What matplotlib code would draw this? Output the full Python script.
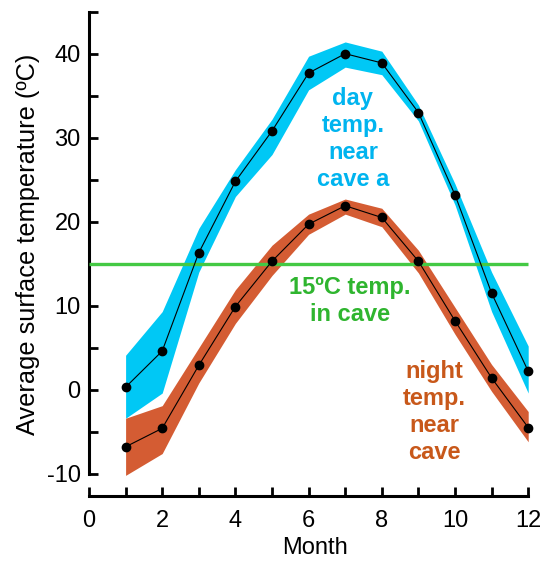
import matplotlib
matplotlib.use("Agg")
import matplotlib.pyplot as plt

plt.rcParams['font.family'] = ['Liberation Sans', 'DejaVu Sans']
plt.rcParams['axes.unicode_minus'] = False

months = [1, 2, 3, 4, 5, 6, 7, 8, 9, 10, 11, 12]
day_mean = [0.3, 4.6, 16.3, 24.8, 30.8, 37.7, 40.0, 38.9, 33.0, 23.2, 11.5, 2.2]
day_upper = [4.1, 9.3, 19.2, 26.2, 32.2, 39.7, 41.4, 40.3, 33.9, 24.5, 14.0, 5.2]
day_lower = [-3.4, -0.4, 14.0, 23.0, 28.0, 35.7, 38.4, 37.5, 32.0, 22.0, 9.3, -0.4]
night_mean = [-6.8, -4.6, 2.9, 9.9, 15.3, 19.7, 21.9, 20.5, 15.3, 8.2, 1.4, -4.5]
night_upper = [-3.4, -1.9, 5.0, 11.9, 17.2, 20.9, 22.7, 21.6, 16.6, 9.8, 3.0, -2.6]
night_lower = [-10.2, -7.6, 0.8, 7.9, 13.6, 18.5, 20.9, 19.4, 13.9, 6.6, -0.2, -6.2]
cave_temp = 15

xticks = [0, 2, 4, 6, 8, 10, 12]
yticks = [-10, 0, 10, 20, 30, 40]

W, H = 545, 561
fig = plt.figure(figsize=(W / 100, H / 100), dpi=100)
# axes placement in pixels
x0_px, px_per_x = 89, 36.6
y0_px, px_per_y = 389.7, 8.4
xlim = (0, 12.35)
ylim = (-12.65, 46)
left = x0_px / W
width = (xlim[1] - xlim[0]) * px_per_x / W
bottom_px = y0_px - ylim[0] * px_per_y
top_px = y0_px - ylim[1] * px_per_y
ax = fig.add_axes([left, (H - bottom_px) / H, width, (bottom_px - top_px) / H])

day_band = '#00c8f5'
night_band = '#d45c33'

ax.fill_between(months, day_lower, day_upper, color=day_band, lw=0, zorder=1)
ax.fill_between(months, night_lower, night_upper, color=night_band, lw=0, zorder=2)
ax.plot(months, day_mean, color='black', lw=0.8, marker='o', ms=6, zorder=4)
ax.plot(months, night_mean, color='black', lw=0.8, marker='o', ms=6, zorder=4)
ax.hlines(cave_temp, 0, 12, color='#44c944', lw=2.4, zorder=3)

ax.set_xlim(*xlim)
ax.set_ylim(*ylim)
for s in ['top', 'right']:
    ax.spines[s].set_visible(False)
ax.spines['left'].set_bounds(-10, 45)
ax.spines['bottom'].set_bounds(0, 12)
for s in ['left', 'bottom']:
    ax.spines[s].set_linewidth(2.2)

ax.set_xticks(xticks)
ax.set_xticks(months, minor=True)
ax.set_yticks(yticks)
ax.set_yticks(list(range(-10, 46, 5)), minor=True)
ax.tick_params(axis='both', which='both', direction='in', width=2.0, length=6.5,
               labelsize=17)
ax.tick_params(axis='x', which='both', pad=10)
ax.tick_params(axis='y', which='both', pad=6)

ax.set_xlabel('Month', fontsize=17, labelpad=4)
fig.text(28 / W, 1 - 244 / H, 'Average surface temperature (ºC)', rotation=90,
         ha='center', va='center', fontsize=18.3)

ax.text(7.21, 29.8, 'day\ntemp.\nnear\ncave a', color='#00b4ef', fontsize=17,
        fontweight='bold', ha='center', va='center', linespacing=1.22)
ax.text(7.13, 10.6, '15ºC temp.\nin cave', color='#2fb52f', fontsize=17,
        fontweight='bold', ha='center', va='center', linespacing=1.22)
ax.text(9.43, -2.7, 'night\ntemp.\nnear\ncave', color='#c8581a', fontsize=17,
        fontweight='bold', ha='center', va='center', linespacing=1.22)

fig.savefig('out.png', dpi=100)
